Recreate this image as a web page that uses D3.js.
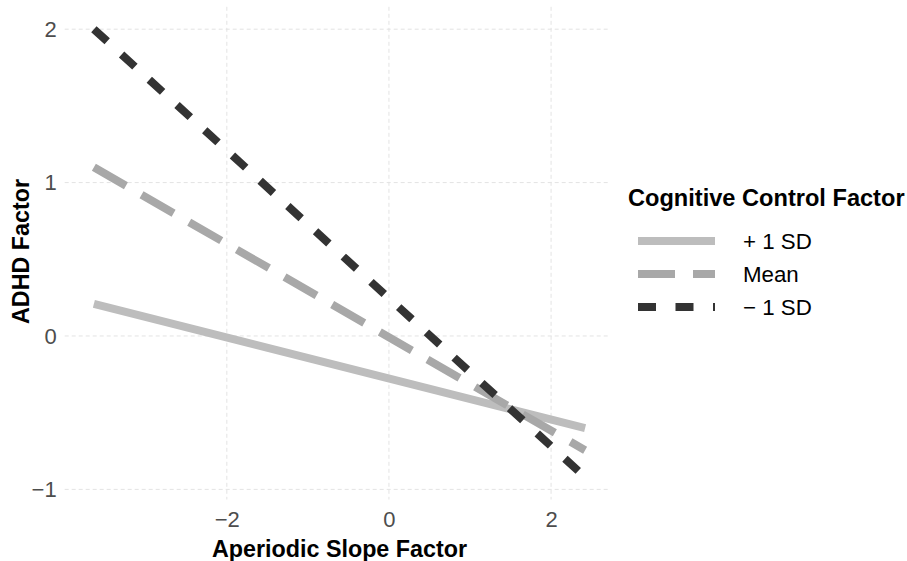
<!DOCTYPE html>
<html>
<head>
<meta charset="utf-8">
<script src="https://cdn.jsdelivr.net/npm/d3@7"></script>
<style>
  body { margin: 0; background: #fff; }
  svg { display: block; font-family: "Liberation Sans", Arial, sans-serif; }
</style>
</head>
<body>
<svg id="chart" width="907" height="561"></svg>
<script>
// ---- data ----
const xEnds = [-3.64, 2.42];                 // Aperiodic Slope Factor range
const seriesNames = ["+ 1 SD", "Mean", "\u2212 1 SD"];
const plusSD  = [0.21, -0.60];               // ADHD Factor at xEnds
const meanSD  = [1.10, -0.745];
const minusSD = [2.00, -0.92];
const xTicks = [-2, 0, 2];
const yTicks = [-1, 0, 1, 2];
const xTitle = "Aperiodic Slope Factor";
const yTitle = "ADHD Factor";
const legendTitle = "Cognitive Control Factor";

const styles = [
  { color: "#bdbdbd", dash: null },
  { color: "#a8a8a8", dash: "37,18" },
  { color: "#333333", dash: "18,19.5" }
];
const seriesValues = [plusSD, meanSD, minusSD];

const svg = d3.select("#chart");
const x = d3.scaleLinear().domain([-4.0, 2.727]).range([64.7, 610]);
const y = d3.scaleLinear().domain([-1.066, 2.146]).range([499.5, 6.8]);

// ---- grid ----
const grid = svg.append("g");
grid.selectAll("line.v").data(xTicks).join("line")
  .attr("x1", d => x(d)).attr("x2", d => x(d))
  .attr("y1", y.range()[1]).attr("y2", y.range()[0])
  .attr("stroke", "#e3e3e3").attr("stroke-width", 1).attr("stroke-dasharray", "4,3");
grid.selectAll("line.h").data(yTicks).join("line")
  .attr("y1", d => y(d)).attr("y2", d => y(d))
  .attr("x1", x.range()[0]).attr("x2", x.range()[1])
  .attr("stroke", "#e3e3e3").attr("stroke-width", 1).attr("stroke-dasharray", "4,3");

// ---- axes (labels only) ----
const fmt = d => d < 0 ? "\u2212" + Math.abs(d) : String(d);
const xAxis = svg.append("g").attr("transform", `translate(0,${y.range()[0]})`)
  .call(d3.axisBottom(x).tickValues(xTicks).tickFormat(fmt).tickSize(0).tickPadding(12));
const yAxis = svg.append("g").attr("transform", `translate(${x.range()[0]},0)`)
  .call(d3.axisLeft(y).tickValues(yTicks).tickFormat(fmt).tickSize(0).tickPadding(8));
[xAxis, yAxis].forEach(a => {
  a.select(".domain").remove();
  a.selectAll("text").attr("font-size", 22).attr("fill", "#4d4d4d")
    .attr("font-family", "Liberation Sans, Arial, sans-serif");
});

// ---- lines ----
const line = d3.line().x(d => x(d[0])).y(d => y(d[1]));
seriesValues.forEach((vals, i) => {
  svg.append("path")
    .datum(xEnds.map((xv, j) => [xv, vals[j]]))
    .attr("d", line)
    .attr("fill", "none")
    .attr("stroke", styles[i].color)
    .attr("stroke-width", 8)
    .attr("stroke-dasharray", styles[i].dash);
});

// ---- axis titles ----
svg.append("text").attr("x", 339.5).attr("y", 556.5)
  .attr("text-anchor", "middle").attr("font-weight", "bold").attr("font-size", 23.3)
  .attr("fill", "#000").text(xTitle);
svg.append("text").attr("transform", "translate(29,251.5) rotate(-90)")
  .attr("text-anchor", "middle").attr("font-weight", "bold").attr("font-size", 23.3)
  .attr("fill", "#000").text(yTitle);

// ---- legend ----
const lg = svg.append("g");
lg.append("text").attr("x", 628).attr("y", 206).attr("font-weight", "bold")
  .attr("font-size", 23.6).attr("fill", "#000").text(legendTitle);
const rowY = d3.scalePoint().domain(seriesNames).range([241, 307]);
seriesNames.forEach((name, i) => {
  const cy = rowY(name);
  lg.append("line").attr("x1", 638).attr("x2", 715).attr("y1", cy).attr("y2", cy)
    .attr("stroke", styles[i].color).attr("stroke-width", 8)
    .attr("stroke-dasharray", styles[i].dash);
  lg.append("text").attr("x", 743).attr("y", cy + 8).attr("font-size", 22.3)
    .attr("fill", "#000").text(name);
});
</script>
</body>
</html>
